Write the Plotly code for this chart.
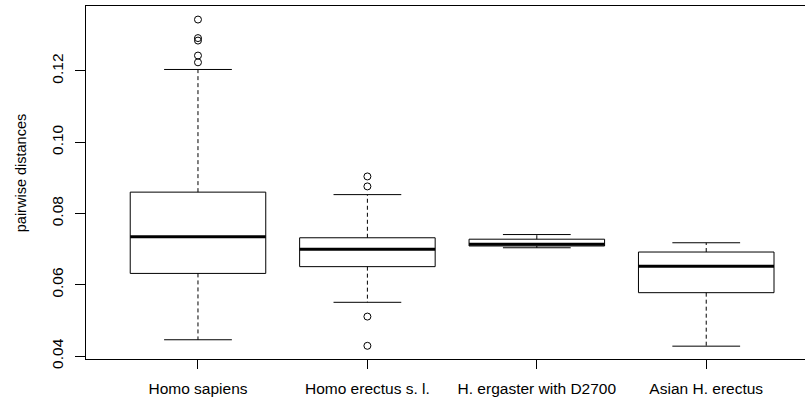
import plotly.graph_objects as go

# Five-number summaries of pairwise distances per group
groups = ["Homo sapiens", "Homo erectus s. l.", "H. ergaster with D2700", "Asian H. erectus"]
lower_whisker = [0.0446, 0.0551, 0.0704, 0.0428]
q1 = [0.0632, 0.0651, 0.0709, 0.0578]
median = [0.0735, 0.0700, 0.0714, 0.0652]
q3 = [0.0860, 0.0732, 0.0728, 0.0692]
upper_whisker = [0.1204, 0.0853, 0.0741, 0.0718]
outliers = [
    [0.1344, 0.1292, 0.1285, 0.1243, 0.1224],
    [0.0904, 0.0876, 0.0511, 0.0429],
    [],
    [],
]

half_box = 0.4   # boxwex 0.8
half_cap = 0.2   # staple half width
font = "Liberation Sans, Arial, sans-serif"

fig = go.Figure()
line_style = dict(color="black", width=1)

for i, name in enumerate(groups):
    x = i + 1
    # box outline
    fig.add_trace(go.Scatter(
        x=[x - half_box, x + half_box, x + half_box, x - half_box, x - half_box],
        y=[q1[i], q1[i], q3[i], q3[i], q1[i]],
        mode="lines", line=line_style, hoverinfo="skip", showlegend=False))
    # dashed whiskers
    fig.add_trace(go.Scatter(
        x=[x, x, None, x, x],
        y=[q3[i], upper_whisker[i], None, q1[i], lower_whisker[i]],
        mode="lines", line=dict(color="black", width=1, dash="4px,3px"),
        hoverinfo="skip", showlegend=False))
    # whisker caps
    fig.add_trace(go.Scatter(
        x=[x - half_cap, x + half_cap, None, x - half_cap, x + half_cap],
        y=[upper_whisker[i], upper_whisker[i], None, lower_whisker[i], lower_whisker[i]],
        mode="lines", line=line_style, hoverinfo="skip", showlegend=False))
    # median
    fig.add_trace(go.Scatter(
        x=[x - half_box, x + half_box], y=[median[i], median[i]],
        mode="lines", line=dict(color="black", width=3), hoverinfo="skip", showlegend=False))
    # outliers
    if outliers[i]:
        fig.add_trace(go.Scatter(
            x=[x] * len(outliers[i]), y=outliers[i], mode="markers",
            marker=dict(symbol="circle-open", size=7, color="black", line=dict(width=1)),
            hoverinfo="skip", showlegend=False))

fig.update_layout(
    width=805, height=401,
    margin=dict(l=86, r=0, t=6, b=42, pad=0),
    paper_bgcolor="white", plot_bgcolor="white",
    font=dict(family=font, size=15.5, color="black"),
    xaxis=dict(
        range=[0.339, 4.583], tickmode="array", tickvals=[1, 2, 3, 4], ticktext=groups,
        showgrid=False, zeroline=False, showline=True, linecolor="black", linewidth=1,
        mirror=True, ticks="outside", ticklen=9, tickcolor="black", ticklabelstandoff=6,
        tickfont=dict(family=font, size=15.5, color="black")),
    yaxis=dict(
        range=[0.0392, 0.1382], tickvals=[0.04, 0.06, 0.08, 0.10, 0.12],
        ticktext=["0.04", "0.06", "0.08", "0.10", "0.12"], tickangle=-90,
        showgrid=False, zeroline=False, showline=True, linecolor="black", linewidth=1,
        ticks="outside", ticklen=10, tickcolor="black", ticklabelstandoff=6,
        tickfont=dict(family=font, size=15.5, color="black")),
    annotations=[dict(
        text="pairwise distances", xref="paper", yref="paper",
        x=-(86 - 21) / 719, y=(358.5 - 173) / 352.5, xanchor="center", yanchor="middle",
        textangle=-90, showarrow=False, font=dict(family=font, size=14.5, color="black"))],
)

fig.write_html("out.html")
